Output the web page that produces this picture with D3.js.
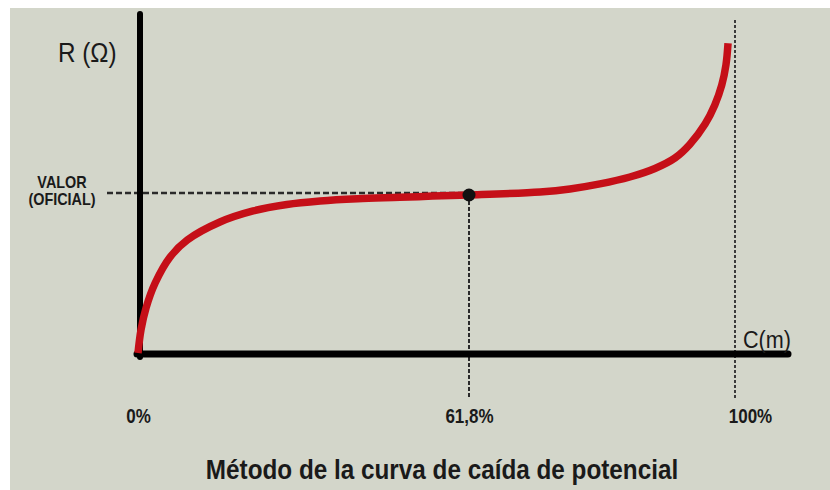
<!DOCTYPE html>
<html>
<head>
<meta charset="utf-8">
<script src="https://cdn.jsdelivr.net/npm/d3@7"></script>
<style>
  body { margin: 0; background: #ffffff; }
  svg { display: block; }
  text { font-family: "Liberation Sans", Arial, sans-serif; fill: #1a1a1a; }
</style>
</head>
<body>
<div id="wrapper"></div>
<script>
// curve: distance in % of C, resistance relative to official value
const distance = [0, 0.56, 1.5, 3.2, 6, 9.2, 15.3, 21.5, 27.8, 34, 41, 48.9, 55, 61.8, 72, 76.3, 80.6, 84.9, 88.5, 91.4, 93.5, 95.7, 97.1, 98.1, 98.7, 99]
const resistance = [0, 0.146, 0.285, 0.443, 0.608, 0.715, 0.829, 0.899, 0.94, 0.962, 0.976, 0.985, 0.993, 1, 1.019, 1.038, 1.07, 1.114, 1.168, 1.235, 1.32, 1.449, 1.57, 1.696, 1.823, 1.96]

const tickValues = [0, 61.8, 100]
const tickLabels = ["0%", "61,8%", "100%"]
const officialDistance = 61.8
const officialValue = 1

const dimensions = {
  width: 830,
  height: 490,
}

const wrapper = d3.select("#wrapper")
  .append("svg")
    .attr("width", dimensions.width)
    .attr("height", dimensions.height)

// paper background (photo has a white strip top and left)
wrapper.append("rect")
  .attr("x", 10).attr("y", 8)
  .attr("width", dimensions.width - 10)
  .attr("height", dimensions.height - 8)
  .attr("fill", "#d3d6ca")

// piecewise scale, the drawing is schematic so 61,8% is not at its true spot
const xScale = d3.scaleLinear()
  .domain([0, 61.8, 100])
  .range([138, 469, 735])

const yScale = d3.scaleLinear()
  .domain([0, 1])
  .range([353, 195])

const axisY = yScale(0) + 1
const axisX = xScale(0) + 2

// condensed look: the book uses a narrow face, we squeeze the text instead
function squeezed(x, y, k) {
  return `translate(${x},${y}) scale(${k},1)`
}

// dashed guides
wrapper.append("line")
  .attr("x1", 107).attr("x2", xScale(officialDistance))
  .attr("y1", yScale(officialValue) - 2).attr("y2", yScale(officialValue) - 2)
  .attr("stroke", "#2a2a2a")
  .attr("stroke-width", 2.5)
  .attr("stroke-dasharray", "6,3")

wrapper.append("line")
  .attr("x1", xScale(officialDistance)).attr("x2", xScale(officialDistance))
  .attr("y1", yScale(officialValue)).attr("y2", 398)
  .attr("stroke", "#2a2a2a")
  .attr("stroke-width", 2)
  .attr("stroke-dasharray", "4,2")

wrapper.append("line")
  .attr("x1", xScale(100)).attr("x2", xScale(100))
  .attr("y1", 20).attr("y2", 398)
  .attr("stroke", "#3a3a3a")
  .attr("stroke-width", 2)
  .attr("stroke-dasharray", "3,2")

// axes drawn as heavy bars
wrapper.append("line")
  .attr("x1", axisX).attr("x2", axisX)
  .attr("y1", 14).attr("y2", axisY + 3)
  .attr("stroke", "#000")
  .attr("stroke-width", 6)
  .attr("stroke-linecap", "round")

wrapper.append("line")
  .attr("x1", axisX - 3).attr("x2", 788)
  .attr("y1", axisY).attr("y2", axisY)
  .attr("stroke", "#000")
  .attr("stroke-width", 7)
  .attr("stroke-linecap", "round")

// tick labels via d3 axis, no tick marks
const xAxisGenerator = d3.axisBottom(xScale)
  .tickValues(tickValues)
  .tickFormat((d, i) => tickLabels[i])
  .tickSize(0)
  .tickPadding(0)

const xAxis = wrapper.append("g")
  .attr("transform", `translate(0, 408)`)
  .call(xAxisGenerator)
xAxis.select(".domain").remove()
xAxis.selectAll("text")
  .attr("y", 0)
  .attr("dy", "0.75em")
  .attr("transform", (d) => squeezed(d === 100 ? 15 : 0, 0, 0.85))
  .style("font-family", "'Liberation Sans', Arial, sans-serif")
  .style("font-size", "20px")
  .style("font-weight", "bold")
  .attr("fill", "#1a1a1a")

// the red curve
const data = distance.map((d, i) => ({ x: d, y: resistance[i] }))
const lineGenerator = d3.line()
  .x((d) => xScale(d.x))
  .y((d) => yScale(d.y))
  .curve(d3.curveCatmullRom.alpha(0.5))

wrapper.append("path")
  .datum(data)
  .attr("d", lineGenerator)
  .attr("fill", "none")
  .attr("stroke", "#c50f18")
  .attr("stroke-width", 7.5)

wrapper.append("circle")
  .attr("cx", xScale(officialDistance))
  .attr("cy", yScale(officialValue))
  .attr("r", 6.5)
  .attr("fill", "#111")

// labels
wrapper.append("text")
  .attr("transform", squeezed(58, 62, 0.9))
  .style("font-size", "27px")
  .text("R (Ω)")

wrapper.append("text")
  .attr("transform", squeezed(743, 348, 0.9))
  .style("font-size", "24px")
  .text("C(m)")

wrapper.append("text")
  .attr("transform", squeezed(62, 188, 0.9))
  .attr("text-anchor", "middle")
  .style("font-size", "16px")
  .style("font-weight", "bold")
  .text("VALOR")

wrapper.append("text")
  .attr("transform", squeezed(62, 205, 0.9))
  .attr("text-anchor", "middle")
  .style("font-size", "16px")
  .style("font-weight", "bold")
  .text("(OFICIAL)")

wrapper.append("text")
  .attr("transform", squeezed(442, 479, 0.9))
  .attr("text-anchor", "middle")
  .style("font-size", "27px")
  .style("font-weight", "bold")
  .text("Método de la curva de caída de potencial")
</script>
</body>
</html>
